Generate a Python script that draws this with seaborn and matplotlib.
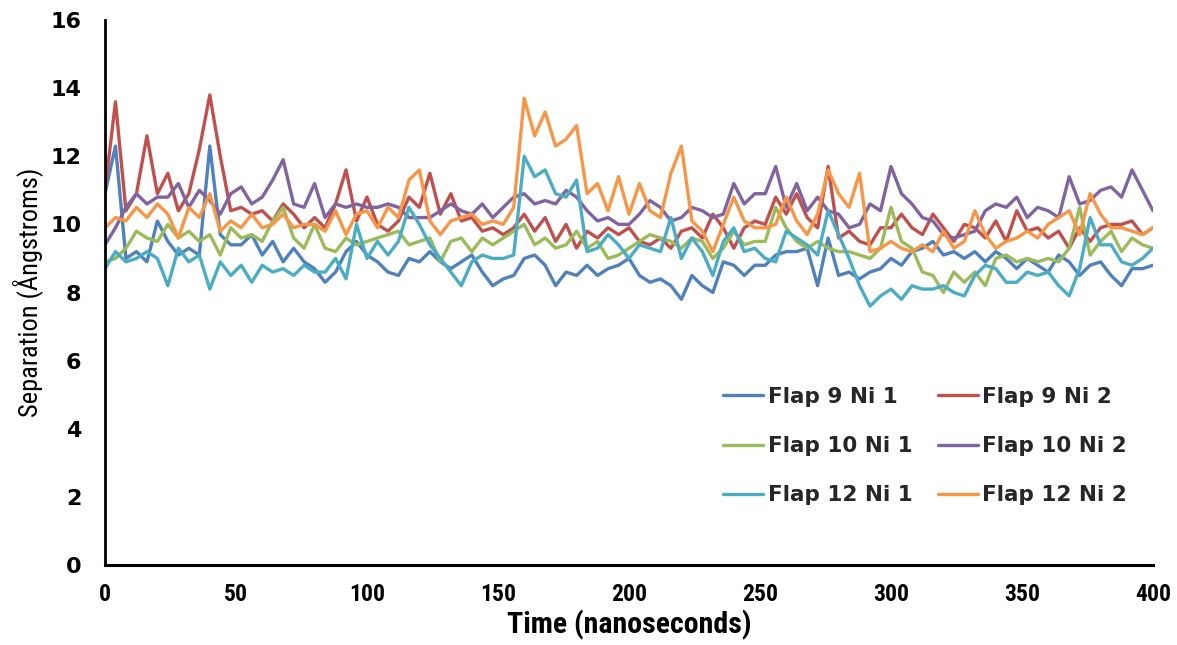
import numpy as np
import pandas as pd
import seaborn as sns
import matplotlib.pyplot as plt
from matplotlib.lines import Line2D
from matplotlib import font_manager

# Sampling times (ns)
time_ns = np.arange(0, 401, 4)

series_names = ["Flap 9 Ni 1", "Flap 9 Ni 2", "Flap 10 Ni 1",
                "Flap 10 Ni 2", "Flap 12 Ni 1", "Flap 12 Ni 2"]
series_colors = ["#4F81BD", "#C0504D", "#9BBB59", "#8064A2", "#4BACC6", "#F79646"]

flap9_ni1 = [10.9, 12.3, 9.0, 9.2, 8.9, 10.1, 9.5, 9.1, 9.3, 9.1, 12.3, 9.7, 9.4,
             9.4, 9.7, 9.1, 9.5, 8.9, 9.3, 8.9, 8.7, 8.3, 8.6, 9.2, 9.5,
             9.1, 8.9, 8.6, 8.5, 9.0, 8.9, 9.2, 8.9, 8.7, 8.9, 9.1, 8.6, 8.2,
             8.4, 8.5, 9.0, 9.1, 8.8, 8.2, 8.6, 8.5, 8.8, 8.5, 8.7, 8.8,
             9.0, 8.5, 8.3, 8.4, 8.2, 7.8, 8.5, 8.2, 8.0, 8.9, 8.8, 8.5, 8.8,
             8.8, 9.1, 9.2, 9.2, 9.3, 8.2, 9.6, 8.5, 8.6, 8.4, 8.6, 8.7,
             9.0, 8.8, 9.2, 9.3, 9.5, 9.1, 9.2, 9.0, 9.2, 8.9, 9.2, 9.0,
             8.7, 9.0, 8.8, 8.6, 9.1, 8.9, 8.5, 8.8, 8.9, 8.5, 8.2, 8.7, 8.7, 8.8]

flap9_ni2 = [11.0, 13.6, 10.4, 10.9, 12.6, 10.9, 11.5, 10.4, 10.9, 12.2, 13.8, 12.0, 10.4,
             10.5, 10.3, 10.4, 10.1, 10.6, 10.3, 9.9, 10.2, 9.9, 10.6, 11.6, 10.1,
             10.8, 10.0, 9.8, 10.1, 10.8, 10.5, 11.5, 10.3, 10.9, 10.1, 10.2, 9.8, 9.9,
             9.7, 9.9, 10.3, 9.8, 10.2, 9.5, 10.0, 9.3, 9.8, 9.6, 9.9, 9.7,
             9.9, 9.5, 9.4, 9.6, 9.3, 9.8, 9.9, 9.6, 10.3, 9.9, 9.3, 9.9, 10.1,
             10.0, 10.8, 10.3, 10.9, 10.2, 9.9, 11.7, 9.6, 9.8, 9.5, 9.4, 9.9,
             9.9, 10.3, 9.9, 9.7, 10.3, 9.9, 9.5, 10.0, 9.9, 9.6, 10.1, 9.5,
             10.4, 9.8, 9.9, 9.6, 9.8, 9.3, 9.9, 9.5, 9.9, 10.0, 10.0, 10.1, 9.7, 9.9]

flap10_ni1 = [8.9, 9.0, 9.3, 9.8, 9.6, 9.5, 10.0, 9.6, 9.8, 9.5, 9.7, 9.1, 9.9,
              9.6, 9.7, 9.5, 10.1, 10.5, 9.6, 9.3, 10.0, 9.3, 9.2, 9.6, 9.4,
              9.5, 9.6, 9.7, 9.8, 9.4, 9.5, 9.6, 8.9, 9.5, 9.6, 9.2, 9.6, 9.4,
              9.6, 9.8, 10.0, 9.4, 9.6, 9.3, 9.4, 9.8, 9.3, 9.5, 9.0, 9.1,
              9.3, 9.5, 9.7, 9.6, 9.5, 9.3, 9.6, 9.5, 9.0, 9.3, 9.8, 9.4, 9.5,
              9.5, 10.5, 9.9, 9.5, 9.3, 9.5, 9.3, 9.2, 9.2, 9.1, 9.0, 9.3,
              10.5, 9.5, 9.3, 8.6, 8.5, 8.0, 8.6, 8.3, 8.6, 8.2, 9.0, 9.1,
              8.9, 9.0, 8.9, 9.0, 8.9, 9.3, 10.5, 9.1, 9.5, 9.8, 9.2, 9.6, 9.4, 9.3]

flap10_ni2 = [9.4, 9.9, 10.5, 10.9, 10.6, 10.8, 10.8, 11.2, 10.5, 11.0, 10.7, 10.3, 10.9,
              11.1, 10.6, 10.8, 11.3, 11.9, 10.6, 10.5, 11.2, 10.2, 10.6, 10.5, 10.6,
              10.5, 10.5, 10.6, 10.5, 10.2, 10.2, 10.2, 10.4, 10.6, 10.4, 10.3, 10.6, 10.2,
              10.5, 10.8, 10.9, 10.6, 10.7, 10.6, 11.0, 10.8, 10.4, 10.1, 10.2, 10.0,
              10.0, 10.3, 10.7, 10.5, 10.1, 10.2, 10.5, 10.4, 10.2, 10.3, 11.2, 10.6, 10.9,
              10.9, 11.7, 10.5, 11.2, 10.4, 10.8, 10.4, 10.3, 9.9, 10.0, 10.6, 10.4,
              11.7, 10.9, 10.6, 10.2, 10.1, 9.7, 9.6, 9.7, 9.8, 10.4, 10.6, 10.5,
              10.8, 10.2, 10.5, 10.4, 10.2, 11.4, 10.6, 10.7, 11.0, 11.1, 10.8, 11.6, 11.0, 10.4]

flap12_ni1 = [8.7, 9.2, 8.9, 9.0, 9.2, 9.0, 8.2, 9.3, 8.9, 9.1, 8.1, 8.9, 8.5,
              8.8, 8.3, 8.8, 8.6, 8.7, 8.5, 8.8, 8.6, 8.6, 9.0, 8.4, 10.0,
              9.0, 9.5, 9.1, 9.5, 10.5, 10.0, 9.4, 9.0, 8.6, 8.2, 8.9, 9.1, 9.0,
              9.0, 9.1, 12.0, 11.4, 11.6, 10.9, 10.8, 11.3, 9.2, 9.3, 9.7, 9.4,
              9.0, 9.4, 9.3, 9.2, 10.2, 9.0, 9.6, 9.2, 8.5, 9.5, 9.9, 9.2, 9.3,
              9.0, 8.9, 9.8, 9.6, 9.4, 9.1, 10.4, 9.7, 9.0, 8.2, 7.6, 7.9,
              8.1, 7.8, 8.2, 8.1, 8.1, 8.2, 8.0, 7.9, 8.5, 8.8, 8.7, 8.3,
              8.3, 8.6, 8.5, 8.6, 8.2, 7.9, 8.7, 10.2, 9.4, 9.4, 8.9, 8.8, 9.0, 9.3]

flap12_ni2 = [9.9, 10.2, 10.1, 10.5, 10.2, 10.6, 10.3, 9.6, 10.5, 10.2, 10.9, 9.8, 10.1,
              9.9, 10.3, 9.9, 10.0, 10.3, 9.9, 10.0, 10.0, 9.8, 10.4, 9.7, 10.3,
              10.4, 9.9, 10.5, 10.2, 11.3, 11.6, 10.1, 9.7, 10.1, 10.2, 10.3, 10.0, 10.1,
              10.0, 10.5, 13.7, 12.6, 13.3, 12.3, 12.5, 12.9, 10.9, 11.2, 10.4, 11.4,
              10.3, 11.2, 10.4, 10.2, 11.5, 12.3, 10.1, 9.8, 9.2, 10.0, 10.8, 10.1, 9.9,
              9.9, 10.0, 10.8, 10.1, 9.7, 10.3, 11.6, 10.9, 10.5, 11.5, 9.2, 9.3,
              9.5, 9.3, 9.2, 9.4, 9.2, 9.8, 9.3, 9.5, 10.4, 9.7, 9.3, 9.5,
              9.6, 9.8, 9.6, 10.0, 10.2, 10.4, 9.7, 10.9, 10.3, 9.9, 9.9, 9.8, 9.7, 9.9]

y_ticks = [0, 2, 4, 6, 8, 10, 12, 14, 16]
x_ticks = [0, 50, 100, 150, 200, 250, 300, 350, 400]

# Long-form table for seaborn
all_values = [flap9_ni1, flap9_ni2, flap10_ni1, flap10_ni2, flap12_ni1, flap12_ni2]
frames = [pd.DataFrame({"time": time_ns, "sep": vals, "series": name})
          for name, vals in zip(series_names, all_values)]
df = pd.concat(frames, ignore_index=True)

sns.set_theme(style="white")
plt.rcParams["font.family"] = ["DejaVu Sans"]

# Pick a condensed sans for the axis captions when one is installed
installed = {f.name for f in font_manager.fontManager.ttflist}
narrow = "Liberation Sans"
for cand in ["Liberation Sans Narrow", "Roboto Condensed", "Open Sans Condensed",
             "DejaVu Sans Condensed"]:
    if cand in installed:
        narrow = cand
        break

fig = plt.figure(figsize=(11.77, 6.45), dpi=100)
ax = fig.add_axes([0.0892, 0.124, 0.8904, 0.845])

sns.lineplot(data=df, x="time", y="sep", hue="series", hue_order=series_names,
             palette=series_colors, linewidth=2.4, estimator=None, sort=False,
             legend=False, ax=ax)

ax.set_xlim(0, 400)
ax.set_ylim(0, 16)
ax.set_xticks(x_ticks)
ax.set_yticks(y_ticks)
ax.set_xticklabels([str(v) for v in x_ticks], fontfamily=narrow,
                   fontweight="bold", fontsize=17)
ax.set_yticklabels([str(v) for v in y_ticks], fontfamily="DejaVu Sans",
                   fontweight="bold", fontsize=16)
ax.tick_params(axis="both", length=0, colors="black")
ax.tick_params(axis="y", pad=17)
ax.tick_params(axis="x", pad=13)

for side in ("top", "right"):
    ax.spines[side].set_visible(False)
ax.spines["left"].set_linewidth(2.0)
ax.spines["bottom"].set_linewidth(2.2)
ax.spines["left"].set_color("black")
ax.spines["bottom"].set_color("black")
ax.grid(False)

ax.set_xlabel("Time (nanoseconds)", fontfamily=narrow, fontweight="bold",
              fontsize=21.5, labelpad=3, color="black")
ax.set_ylabel("Separation (Ångstroms)", fontfamily=narrow, fontsize=19,
              labelpad=5, color="black")

# Legend laid out in rows: Ni 1 on the left, Ni 2 on the right
handles = {name: Line2D([0], [0], color=c, linewidth=2.4)
           for name, c in zip(series_names, series_colors)}
order = ["Flap 9 Ni 1", "Flap 10 Ni 1", "Flap 12 Ni 1",
         "Flap 9 Ni 2", "Flap 10 Ni 2", "Flap 12 Ni 2"]
leg = ax.legend([handles[n] for n in order], order, ncol=2, frameon=False,
                loc="upper left", bbox_to_anchor=(0.598, 0.430),
                bbox_transform=fig.transFigure,
                prop={"family": "DejaVu Sans", "weight": "bold", "size": 15.5},
                handlelength=1.86, handletextpad=0.2, columnspacing=1.2,
                labelspacing=1.35)

fig.savefig("out.png", dpi=100)
